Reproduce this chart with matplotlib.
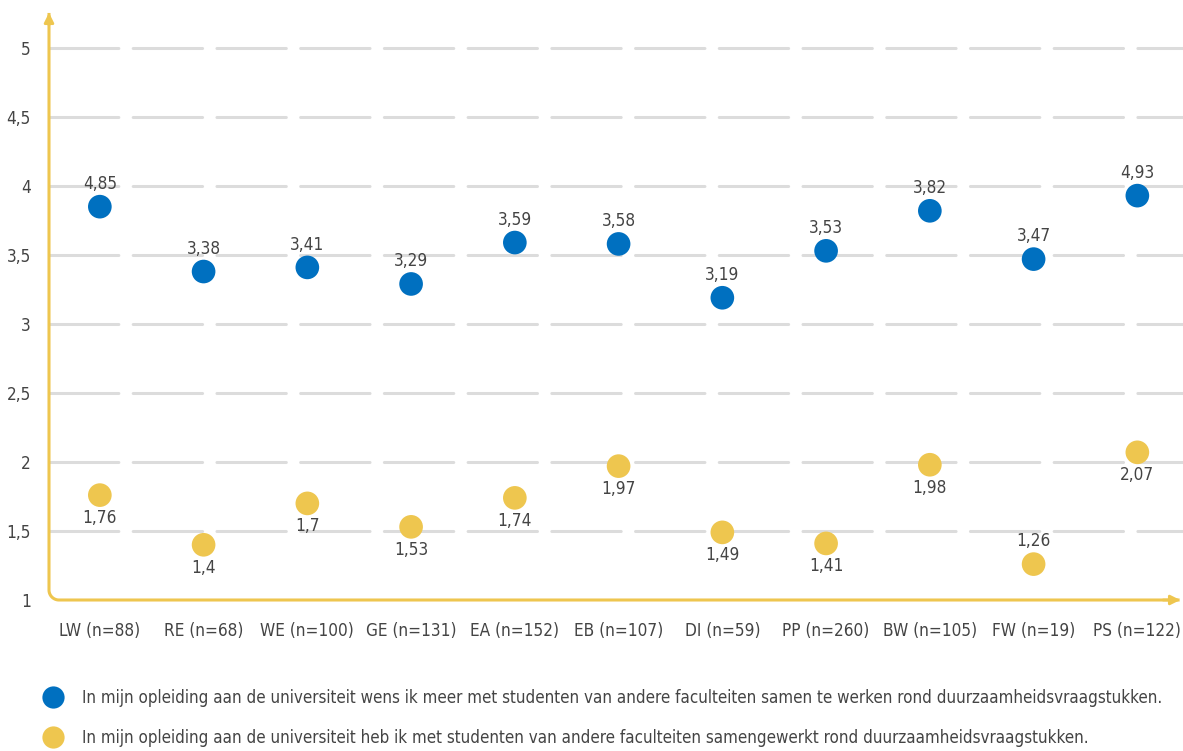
import numpy as np
import matplotlib
matplotlib.use('Agg')
import matplotlib.pyplot as plt
from matplotlib.lines import Line2D

plt.rcParams['font.family'] = ['DejaVu Sans']
plt.rcParams['font.stretch'] = 'condensed'

categories = ['LW (n=88)', 'RE (n=68)', 'WE (n=100)', 'GE (n=131)', 'EA (n=152)', 'EB (n=107)',
              'DI (n=59)', 'PP (n=260)', 'BW (n=105)', 'FW (n=19)', 'PS (n=122)']
wish = [3.85, 3.38, 3.41, 3.29, 3.59, 3.58, 3.19, 3.53, 3.82, 3.47, 3.93]
wish_labels = ['4,85', '3,38', '3,41', '3,29', '3,59', '3,58', '3,19', '3,53', '3,82', '3,47', '4,93']
done = [1.76, 1.4, 1.7, 1.53, 1.74, 1.97, 1.49, 1.41, 1.98, 1.26, 2.07]
done_above = [False, False, False, False, False, False, False, False, False, True, False]
yticks = [1, 1.5, 2, 2.5, 3, 3.5, 4, 4.5, 5]

legend_labels = [
    'In mijn opleiding aan de universiteit wens ik meer met studenten van andere faculteiten samen te werken rond duurzaamheidsvraagstukken.',
    'In mijn opleiding aan de universiteit heb ik met studenten van andere faculteiten samengewerkt rond duurzaamheidsvraagstukken.',
]

BLUE = '#0070c0'
YELLOW = '#eec64f'
GRID = '#dcdcdc'
TXT = '#444444'
FS = 12.3

fig = plt.figure(figsize=(11.83, 7.51), dpi=100)
fig.patch.set_facecolor('white')
ax = fig.add_axes([49 / 1183, 1 - 600 / 751, 1 - 49 / 1183, 590 / 751])

x = np.arange(len(categories))
ax.set_xlim(-0.49, 10.44)
ax.set_ylim(1, 5.275)

# dashed grid
for yv in yticks[1:]:
    ax.axhline(yv, color=GRID, lw=2.2, dashes=(22.7, 4.7), dash_capstyle='round', zorder=1)

ax.scatter(x, wish, s=290, color=BLUE, zorder=3, edgecolors='none')
ax.scatter(x, done, s=290, color=YELLOW, zorder=3, edgecolors='none')

for xi, v, lab in zip(x, wish, wish_labels):
    ax.annotate(lab, (xi, v), xytext=(0, 10), textcoords='offset points', ha='center', va='bottom',
                fontsize=FS, color=TXT)
for xi, v, up in zip(x, done, done_above):
    lab = ('%g' % v).replace('.', ',')
    if up:
        ax.annotate(lab, (xi, v), xytext=(0, 10), textcoords='offset points', ha='center', va='bottom',
                    fontsize=FS, color=TXT)
    else:
        ax.annotate(lab, (xi, v), xytext=(0, -10), textcoords='offset points', ha='center', va='top',
                    fontsize=FS, color=TXT)

# axes with rounded corner and arrows
for s in ax.spines.values():
    s.set_visible(False)
r = 10
w, h = 1134, 590
t = np.linspace(np.pi, 1.5 * np.pi, 20)
cx = r / w + np.cos(t) * r / w
cy = r / h + np.sin(t) * r / h
px = np.concatenate([[0], cx, [0.997]])
py = np.concatenate([[0.995], cy, [0]])
ax.plot(px, py, color=YELLOW, lw=2.2, transform=ax.transAxes, clip_on=False, zorder=2,
        solid_capstyle='butt')
ax.annotate('', xy=(0, 1.0), xytext=(0, 0.97), xycoords='axes fraction',
            arrowprops=dict(arrowstyle='-|>', color=YELLOW, lw=2, mutation_scale=14))
ax.annotate('', xy=(1.0, 0), xytext=(0.98, 0), xycoords='axes fraction',
            arrowprops=dict(arrowstyle='-|>', color=YELLOW, lw=2, mutation_scale=14))

ax.set_yticks(yticks)
ax.set_yticklabels([('%g' % v).replace('.', ',') for v in yticks])
ax.set_xticks(x)
ax.set_xticklabels(categories)
ax.tick_params(axis='y', length=0, pad=13, labelsize=FS, labelcolor=TXT)
ax.tick_params(axis='x', length=0, pad=16, labelsize=FS, labelcolor=TXT)

handles = [Line2D([], [], marker='o', ls='none', markersize=16, color=BLUE, markeredgewidth=0),
           Line2D([], [], marker='o', ls='none', markersize=16, color=YELLOW, markeredgewidth=0)]
fig.legend(handles, legend_labels, loc='upper left', bbox_to_anchor=(36 / 1183, 1 - 682 / 751),
           frameon=False, fontsize=12.15, labelcolor=TXT, handletextpad=1.1, labelspacing=1.3,
           handlelength=1.2, borderaxespad=0)

fig.savefig('out.png', dpi=100)
